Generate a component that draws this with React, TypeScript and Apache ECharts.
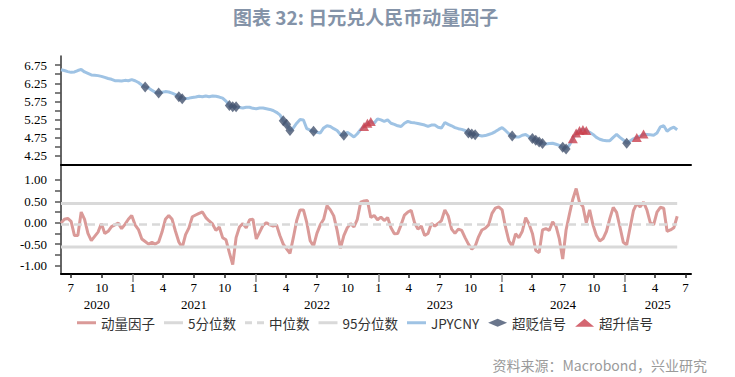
import React, { useEffect, useRef } from 'react';
import * as echarts from 'echarts';

const DAY = 86400000;
const ts = (s: string) => Date.parse(s + 'T00:00:00Z');

// x-axis range and sampling (10-day steps)
const axisMin = ts('2020-06-02');
const axisMax = ts('2025-07-17');
const seriesStart = ts('2020-06-02');
const stepDays = 10;

// JPYCNY (top panel)
const jpycny = [
  6.62, 6.6, 6.57, 6.55, 6.56, 6.6, 6.63, 6.56, 6.52, 6.48,
  6.47, 6.46, 6.44, 6.41, 6.38, 6.36, 6.32, 6.32, 6.31, 6.33,
  6.32, 6.35, 6.32, 6.27, 6.2, 6.15, 6.12, 6.06, 6.0, 5.98,
  6.0, 6.02, 6.01, 5.98, 5.94, 5.88, 5.82, 5.83, 5.84, 5.86,
  5.87, 5.89, 5.88, 5.9, 5.88, 5.9, 5.89, 5.87, 5.84, 5.76,
  5.64, 5.6, 5.6, 5.58, 5.57, 5.59, 5.59, 5.56, 5.55, 5.57,
  5.57, 5.55, 5.53, 5.5, 5.45, 5.38, 5.22, 5.12, 4.95, 5.02,
  5.15, 5.25, 5.24, 5.0, 4.96, 4.93, 4.9, 4.88, 5.02, 5.08,
  5.06, 5.0, 4.95, 4.84, 4.82, 4.9, 4.84, 4.77, 4.86, 4.98,
  5.06, 5.15, 5.2, 5.15, 5.27, 5.24, 5.2, 5.24, 5.15, 5.12,
  5.08, 5.06, 5.15, 5.2, 5.17, 5.16, 5.14, 5.12, 5.1, 5.06,
  5.1, 5.1, 5.04, 5.02, 5.17, 5.12, 5.08, 5.03, 5.0, 4.98,
  4.95, 4.88, 4.85, 4.83, 4.82, 4.8, 4.81, 4.84, 4.87, 4.92,
  4.98, 5.03, 4.95, 4.86, 4.8, 4.77, 4.77, 4.82, 4.84, 4.78,
  4.73, 4.68, 4.63, 4.59, 4.58, 4.59, 4.6, 4.57, 4.54, 4.49,
  4.44, 4.55, 4.72, 4.88, 4.95, 4.98, 4.95, 4.9, 4.84, 4.76,
  4.71, 4.68, 4.67, 4.67, 4.76, 4.84, 4.76, 4.69, 4.6, 4.66,
  4.72, 4.76, 4.79, 4.85, 4.84, 4.83, 4.82, 4.88, 5.05, 5.08,
  4.93, 5.0, 5.04, 4.97,
];

// momentum factor (bottom panel)
const momentum = [
  -0.01, 0.08, 0.1, 0.03, -0.3, -0.3, 0.25, 0.08, -0.25, -0.42,
  -0.32, -0.22, -0.02, -0.25, -0.2, -0.09, -0.05, -0.01, -0.14, -0.04,
  0.08, 0.17, -0.05, -0.16, -0.38, -0.44, -0.5, -0.46, -0.5, -0.45,
  -0.22, 0.08, 0.17, 0.08, -0.2, -0.45, -0.58, -0.28, -0.12, 0.14,
  0.18, 0.22, 0.25, 0.12, 0.04, -0.03, -0.18, -0.1, -0.35, -0.4,
  -0.7, -0.98, -0.35, -0.1, -0.02, -0.12, 0.07, 0.08, -0.38, -0.22,
  -0.06, 0.0, -0.05, -0.08, -0.05, -0.3, -0.5, -0.61, -0.72, -0.35,
  0.05, 0.3, 0.3, 0.0, -0.42, -0.55, -0.25, -0.05, 0.08, 0.4,
  0.3, 0.16, -0.18, -0.6, -0.3, -0.12, -0.02, -0.1, 0.08, 0.48,
  0.51, 0.52, 0.12, 0.17, 0.07, 0.13, 0.05, 0.12, -0.12, -0.26,
  -0.25, -0.05, 0.18, 0.25, 0.29, 0.0, -0.15, -0.08, -0.3, -0.25,
  -0.02, -0.08, -0.02, 0.05, 0.3, 0.16, -0.15, -0.25, -0.15, -0.18,
  -0.35, -0.5, -0.62, -0.55, -0.33, -0.17, -0.13, -0.05, 0.22, 0.34,
  0.37, 0.3, -0.1, -0.42, -0.55, -0.26, -0.35, -0.2, 0.12, -0.03,
  -0.25, -0.65, -0.7, -0.17, -0.14, -0.18, 0.02, -0.08, -0.38, -0.85,
  -0.17, 0.2, 0.55, 0.8, 0.47, 0.38, 0.0, 0.3, -0.05, -0.3,
  -0.43, -0.37, -0.2, 0.1, 0.36, 0.24, -0.1, -0.46, -0.52, -0.12,
  0.28, 0.45, 0.37, 0.48, 0.3, 0.0, -0.05, 0.25, 0.36, 0.34,
  -0.2, -0.17, -0.12, 0.15,
];

const pct5 = -0.57;
const pctMedian = -0.04;
const pct95 = 0.45;

// signal positions (indices into the sampled series)
const depreciationIdx = [25, 29, 35, 36, 50, 51, 52, 66, 67, 68, 75, 84, 121, 122, 123, 134, 140, 141, 142, 143, 149, 150, 168];
const appreciationIdx = [90, 91, 92, 152, 153, 154, 155, 156, 171, 173];

// axis ticks / labels
const quarterDates = [
  '2020-07-01', '2020-10-01', '2021-01-01', '2021-04-01', '2021-07-01', '2021-10-01',
  '2022-01-01', '2022-04-01', '2022-07-01', '2022-10-01', '2023-01-01', '2023-04-01',
  '2023-07-01', '2023-10-01', '2024-01-01', '2024-04-01', '2024-07-01', '2024-10-01',
  '2025-01-01', '2025-04-01', '2025-07-01',
];
const yearStartDates = ['2021-01-01', '2022-01-01', '2023-01-01', '2024-01-01', '2025-01-01'];
const yearLabelDates = ['2020-09-16', '2021-07-02', '2022-07-02', '2023-07-02', '2024-07-02', '2025-04-09'];
const topYTicks = [4.25, 4.5, 4.75, 5.0, 5.25, 5.5, 5.75, 6.0, 6.25, 6.5, 6.75];
const topYLabels = [4.25, 4.75, 5.25, 5.75, 6.25, 6.75];
const botYTicks = [-1.0, -0.75, -0.5, -0.25, 0, 0.25, 0.5, 0.75, 1.0];
const botYLabels = [-1.0, -0.5, 0, 0.5, 1.0];

const LEFT = 61;
const WIDTH = 630;
const SERIF = 'Liberation Serif, Times New Roman, serif';
const CJK = 'Noto Sans CJK SC, sans-serif';
const LINE_ICON = 'path://M0,0 L19,0 L19,3 L0,3 Z';
const DASH_ICON = 'path://M0,0 L7,0 L7,3 L0,3 Z M12,0 L19,0 L19,3 L12,3 Z';

export default function App() {
  const ref = useRef<HTMLDivElement>(null);

  useEffect(() => {
    if (!ref.current) return;
    const chart = echarts.init(ref.current, undefined, { renderer: 'svg' });
    const dates = momentum.map((_, k) => seriesStart + k * stepDays * DAY);
    const last = dates.length - 1;
    const quarterTs = quarterDates.map(ts);
    const nonJanQuarterTs = quarterDates.filter((d) => !d.endsWith('-01-01')).map(ts);

    const yLabelStyle = { fontFamily: SERIF, fontSize: 13, color: '#000' };
    const xBase = { type: 'value', min: axisMin, max: axisMax, splitLine: { show: false } };

    const option: any = {
      animation: false,
      title: [
        {
          text: '图表 32: 日元兑人民币动量因子',
          left: 228,
          top: 2,
          textStyle: { fontFamily: CJK, fontSize: 19, fontWeight: 'bold', color: '#8493a8' },
        },
        {
          text: '资料来源：Macrobond，兴业研究',
          right: 23,
          top: 353,
          textStyle: { fontFamily: CJK, fontSize: 14, fontWeight: 'normal', color: '#9a9a9a' },
        },
      ],
      legend: {
        left: 72,
        top: 311,
        itemWidth: 19,
        itemHeight: 8,
        itemGap: 9,
        textStyle: { fontFamily: CJK, fontSize: 13.5, color: '#333' },
        data: [
          { name: '动量因子', icon: LINE_ICON },
          { name: '5分位数', icon: LINE_ICON },
          { name: '中位数', icon: DASH_ICON },
          { name: '95分位数', icon: LINE_ICON },
          { name: 'JPYCNY', icon: LINE_ICON },
          { name: '超贬信号', icon: 'diamond' },
          { name: '超升信号', icon: 'triangle' },
        ],
      },
      grid: [
        { left: LEFT, width: WIDTH, top: 56, height: 109 },
        { left: LEFT, width: WIDTH, top: 165, height: 109 },
      ],
      xAxis: [
        {
          ...xBase,
          gridIndex: 0,
          position: 'bottom',
          axisLine: { show: true, onZero: false, lineStyle: { color: '#000', width: 2 } },
          axisTick: { show: false },
          axisLabel: { show: false },
        },
        {
          ...xBase,
          gridIndex: 1,
          position: 'bottom',
          axisLine: { show: true, onZero: false, lineStyle: { color: '#000', width: 2 } },
          axisTick: { show: true, customValues: nonJanQuarterTs, length: 4, lineStyle: { color: '#222', width: 1.5 } },
          axisLabel: {
            show: true,
            customValues: quarterTs,
            margin: 7,
            fontFamily: SERIF,
            fontSize: 13,
            color: '#000',
            formatter: (v: number) => String(new Date(v).getUTCMonth() + 1),
          },
        },
        {
          ...xBase,
          gridIndex: 1,
          position: 'bottom',
          axisLine: { show: false, onZero: false },
          axisTick: { show: true, customValues: yearStartDates.map(ts), length: 8, lineStyle: { color: '#888', width: 1.5 } },
          axisLabel: {
            show: true,
            customValues: yearLabelDates.map(ts),
            margin: 24,
            fontFamily: SERIF,
            fontSize: 13,
            color: '#000',
            formatter: (v: number) => String(new Date(v).getUTCFullYear()),
          },
        },
      ],
      yAxis: [
        {
          type: 'value',
          gridIndex: 0,
          min: 4,
          max: 7,
          splitLine: { show: false },
          axisLine: { show: true, onZero: false, lineStyle: { color: '#333', width: 1.5 } },
          axisTick: { show: true, customValues: topYTicks, length: 6, lineStyle: { color: '#555', width: 1.5 } },
          axisLabel: { ...yLabelStyle, margin: 14, customValues: topYLabels, formatter: (v: number) => v.toFixed(2) },
        },
        {
          type: 'value',
          gridIndex: 1,
          min: -1.2,
          max: 1.35,
          splitLine: { show: false },
          axisLine: { show: true, onZero: false, lineStyle: { color: '#333', width: 1.5 } },
          axisTick: { show: true, customValues: botYTicks, length: 6, lineStyle: { color: '#555', width: 1.5 } },
          axisLabel: { ...yLabelStyle, margin: 14, customValues: botYLabels, formatter: (v: number) => v.toFixed(2) },
        },
      ],
      series: [
        {
          name: '动量因子',
          type: 'line',
          xAxisIndex: 1,
          yAxisIndex: 1,
          symbol: 'none',
          color: '#da9a98',
          lineStyle: { color: '#da9a98', width: 3 },
          data: momentum.map((v, k) => [dates[k], v]),
          z: 2,
        },
        {
          name: '5分位数',
          type: 'line',
          xAxisIndex: 1,
          yAxisIndex: 1,
          symbol: 'none',
          color: '#d9d9d9',
          lineStyle: { color: '#d9d9d9', width: 3 },
          data: [[dates[0], pct5], [dates[last], pct5]],
          z: 3,
        },
        {
          name: '中位数',
          type: 'line',
          xAxisIndex: 1,
          yAxisIndex: 1,
          symbol: 'none',
          color: '#d9d9d9',
          lineStyle: { color: '#d9d9d9', width: 2.5, type: [8, 5] },
          data: [[dates[0], pctMedian], [dates[last], pctMedian]],
          z: 3,
        },
        {
          name: '95分位数',
          type: 'line',
          xAxisIndex: 1,
          yAxisIndex: 1,
          symbol: 'none',
          color: '#d9d9d9',
          lineStyle: { color: '#d9d9d9', width: 3 },
          data: [[dates[0], pct95], [dates[last], pct95]],
          z: 3,
        },
        {
          name: 'JPYCNY',
          type: 'line',
          xAxisIndex: 0,
          yAxisIndex: 0,
          symbol: 'none',
          color: '#9fc3e4',
          lineStyle: { color: '#9fc3e4', width: 3 },
          data: jpycny.map((v, k) => [dates[k], v]),
          z: 2,
        },
        {
          name: '超贬信号',
          type: 'scatter',
          xAxisIndex: 0,
          yAxisIndex: 0,
          symbol: 'diamond',
          symbolSize: [9, 11],
          color: '#45546f',
          itemStyle: { color: '#45546f' },
          data: depreciationIdx.map((k) => [dates[k], jpycny[k]]),
          z: 4,
        },
        {
          name: '超升信号',
          type: 'scatter',
          xAxisIndex: 0,
          yAxisIndex: 0,
          symbol: 'triangle',
          symbolSize: [10, 9],
          color: '#c9404e',
          itemStyle: { color: '#c9404e' },
          data: appreciationIdx.map((k) => [dates[k], jpycny[k]]),
          z: 4,
        },
      ],
    };

    chart.setOption(option);
    return () => chart.dispose();
  }, []);

  return (
    <div
      ref={ref}
      style={{ position: 'fixed', left: 0, top: 0, width: 735, height: 377, background: '#fff' }}
    />
  );
}
